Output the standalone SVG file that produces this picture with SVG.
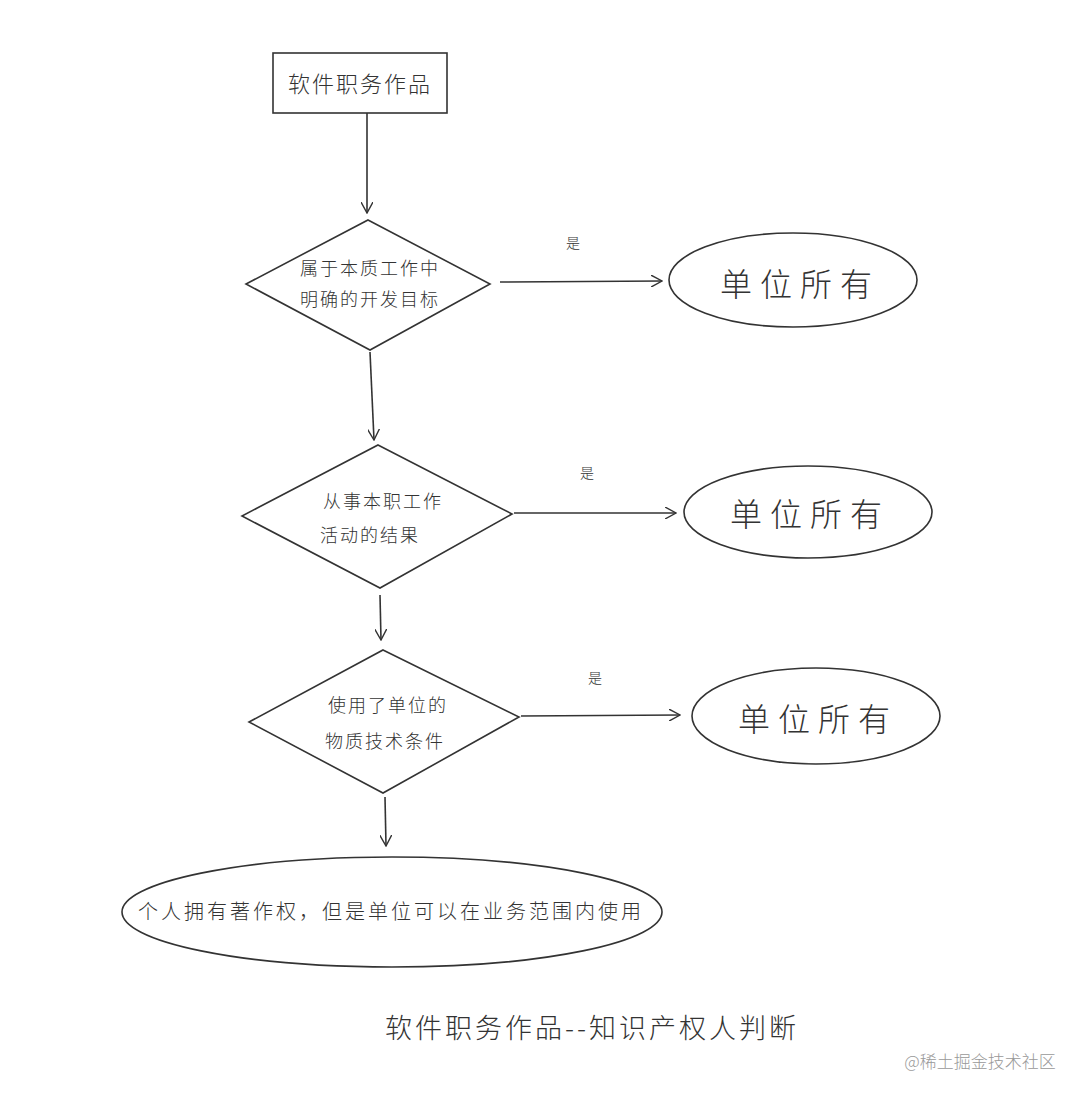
<svg xmlns="http://www.w3.org/2000/svg" width="1089" height="1100" viewBox="0 0 1089 1100">
<style>
.s{fill:none;stroke:#333;stroke-width:1.6}
.c{stroke:#333;stroke-width:1.6;fill:none}
text{font-family:"Noto Sans CJK SC","Liberation Sans",sans-serif;fill:#333;font-weight:300}
</style>
<defs><marker id="a" viewBox="0 0 12 12" refX="11" refY="6" markerWidth="12" markerHeight="12" markerUnits="userSpaceOnUse" orient="auto"><path d="M0,0 L11,6 L0,12" fill="none" stroke="#333" stroke-width="1.4"/></marker></defs>
<rect width="1089" height="1100" fill="#fff"/>
<g id="start"><rect class="s" x="273" y="53" width="174" height="60"/><text x="360" y="92" font-size="22" text-anchor="middle" letter-spacing="2">软件职务作品</text></g>
<g id="d1"><polygon class="s" points="368,220 490,284 370,350 246,284"/><text x="370" y="275" font-size="18" text-anchor="middle" letter-spacing="2">属于本质工作中</text><text x="370" y="306" font-size="18" text-anchor="middle" letter-spacing="2">明确的开发目标</text></g>
<g id="e1"><ellipse class="s" cx="793" cy="280" rx="124" ry="47"/><text x="800" y="296" font-size="32" text-anchor="middle" letter-spacing="8">单位所有</text></g>
<g id="d2"><polygon class="s" points="378,445 512,514 380,588 242,516"/><text x="383" y="508" font-size="18" text-anchor="middle" letter-spacing="2">从事本职工作</text><text x="370" y="542" font-size="18" text-anchor="middle" letter-spacing="2">活动的结果</text></g>
<g id="e2"><ellipse class="s" cx="808" cy="512" rx="124" ry="46"/><text x="810" y="526" font-size="32" text-anchor="middle" letter-spacing="8">单位所有</text></g>
<g id="d3"><polygon class="s" points="383,650 519,717 383,793 249,722"/><text x="388" y="712" font-size="18" text-anchor="middle" letter-spacing="2">使用了单位的</text><text x="385" y="748" font-size="18" text-anchor="middle" letter-spacing="2">物质技术条件</text></g>
<g id="e3"><ellipse class="s" cx="816" cy="716" rx="124" ry="48"/><text x="818" y="731" font-size="32" text-anchor="middle" letter-spacing="8">单位所有</text></g>
<g id="end"><ellipse class="s" cx="392" cy="912" rx="270" ry="55"/><text x="391" y="919" font-size="20" text-anchor="middle" letter-spacing="3">个人拥有著作权，但是单位可以在业务范围内使用</text></g>
<g id="connectors">
<line class="c" x1="367" y1="113" x2="367" y2="213" marker-end="url(#a)"/>
<line class="c" x1="500" y1="282" x2="662" y2="281" marker-end="url(#a)"/>
<line class="c" x1="370" y1="352" x2="374" y2="440" marker-end="url(#a)"/>
<line class="c" x1="514" y1="513" x2="676" y2="513" marker-end="url(#a)"/>
<line class="c" x1="380" y1="595" x2="381" y2="640" marker-end="url(#a)"/>
<line class="c" x1="521" y1="716" x2="680" y2="715" marker-end="url(#a)"/>
<line class="c" x1="385" y1="797" x2="386" y2="846" marker-end="url(#a)"/>
<text x="573" y="248" font-size="14" text-anchor="middle">是</text>
<text x="587" y="478" font-size="14" text-anchor="middle">是</text>
<text x="595" y="683" font-size="14" text-anchor="middle">是</text>
</g>
<text x="592" y="1038" font-size="27" text-anchor="middle" letter-spacing="3">软件职务作品--知识产权人判断</text>
<text x="980" y="1068" font-size="17" text-anchor="middle" style="fill:#999">@稀土掘金技术社区</text>
</svg>
